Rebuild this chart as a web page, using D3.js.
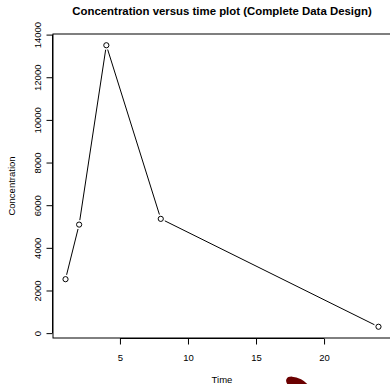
<!DOCTYPE html>
<html>
<head>
<meta charset="utf-8">
<script src="https://cdn.jsdelivr.net/npm/d3@7"></script>
<style>
  html, body { margin: 0; padding: 0; background: #fff; }
  svg { display: block; font-family: "Liberation Sans", Arial, Helvetica, sans-serif; }
</style>
</head>
<body>
<svg id="chart" width="390" height="384"></svg>
<script>
// Sampling times (h) and measured concentrations
const times = [1, 2, 4, 8, 24];
const concentrations = [2530, 5090, 13500, 5360, 300];
const xTicks = [5, 10, 15, 20];
const yTicks = [0, 2000, 4000, 6000, 8000, 10000, 12000, 14000];
const titleText = "Concentration versus time plot (Complete Data Design)";
const xLabel = "Time";
const yLabel = "Concentration";

const svg = d3.select("#chart");
const plot = { left: 53, right: 391, top: 34, bottom: 338 };

// Axis limits padded by 4% of the data range on each side
function padded(ext) {
  const d = (ext[1] - ext[0]) * 0.04;
  return [ext[0] - d, ext[1] + d];
}
const x = d3.scaleLinear().domain(padded(d3.extent(times))).range([plot.left, plot.right]);
const y = d3.scaleLinear().domain(padded(d3.extent(concentrations))).range([plot.bottom, plot.top]);

// Plot frame
svg.append("rect")
  .attr("x", plot.left).attr("y", plot.top)
  .attr("width", plot.right - plot.left).attr("height", plot.bottom - plot.top)
  .attr("fill", "none").attr("stroke", "#000").attr("stroke-width", 1);

// X axis
const xAxis = svg.append("g").attr("transform", `translate(0,${plot.bottom + 0.5})`)
  .call(d3.axisBottom(x).tickValues(xTicks).tickSize(6).tickSizeOuter(0).tickPadding(10));
xAxis.select(".domain").remove();
xAxis.append("line")
  .attr("x1", x(xTicks[0])).attr("x2", x(xTicks[xTicks.length - 1]))
  .attr("stroke", "#000");
xAxis.selectAll(".tick line").attr("stroke", "#000");
xAxis.selectAll("text").attr("font-size", 9.5).attr("fill", "#000")
  .attr("font-family", "Liberation Sans, Arial, sans-serif");

// Y axis with labels rotated parallel to the axis
const yAxis = svg.append("g").attr("transform", `translate(${plot.left - 0.5},0)`)
  .call(d3.axisLeft(y).tickValues(yTicks).tickSize(6).tickSizeOuter(0).tickFormat(d3.format("d")));
yAxis.select(".domain").remove();
yAxis.append("line")
  .attr("y1", y(yTicks[0])).attr("y2", y(yTicks[yTicks.length - 1]))
  .attr("stroke", "#000");
yAxis.selectAll(".tick line").attr("stroke", "#000");
yAxis.selectAll(".tick text")
  .attr("x", null).attr("dy", null)
  .attr("text-anchor", "middle")
  .attr("transform", "translate(-12,0) rotate(-90)")
  .attr("y", 0)
  .attr("font-size", 9.5).attr("fill", "#000")
  .attr("font-family", "Liberation Sans, Arial, sans-serif");

// Line-and-point series: segments stop short of each marker
const pts = times.map((t, i) => [x(t), y(concentrations[i])]);
const gap = 4.5;
const segs = [];
for (let i = 0; i < pts.length - 1; i++) {
  const [x1, y1] = pts[i], [x2, y2] = pts[i + 1];
  const len = Math.hypot(x2 - x1, y2 - y1);
  if (len <= 2 * gap) continue;
  const ux = (x2 - x1) / len, uy = (y2 - y1) / len;
  segs.push([x1 + ux * gap, y1 + uy * gap, x2 - ux * gap, y2 - uy * gap]);
}
svg.append("g").selectAll("line").data(segs).join("line")
  .attr("x1", d => d[0]).attr("y1", d => d[1])
  .attr("x2", d => d[2]).attr("y2", d => d[3])
  .attr("stroke", "#000").attr("stroke-width", 1);

svg.append("g").selectAll("circle").data(pts).join("circle")
  .attr("cx", d => d[0]).attr("cy", d => d[1]).attr("r", 2.6)
  .attr("fill", "#fff").attr("stroke", "#000").attr("stroke-width", 1);

// Title and axis titles
svg.append("text")
  .attr("x", (plot.left + plot.right) / 2).attr("y", 15)
  .attr("text-anchor", "middle").attr("font-weight", "bold").attr("font-size", 11.4)
  .text(titleText);

svg.append("text")
  .attr("x", (plot.left + plot.right) / 2).attr("y", 383)
  .attr("text-anchor", "middle").attr("font-size", 9.5)
  .text(xLabel);

svg.append("text")
  .attr("transform", `translate(14.5,${(plot.top + plot.bottom) / 2}) rotate(-90)`)
  .attr("text-anchor", "middle").attr("font-size", 9.5)
  .text(yLabel);

// Dark red mark at the lower edge
svg.append("ellipse")
  .attr("cx", 298).attr("cy", 385).attr("rx", 13).attr("ry", 6.5)
  .attr("transform", "rotate(28,298,385)")
  .attr("fill", "#6b0000");
</script>
</body>
</html>
